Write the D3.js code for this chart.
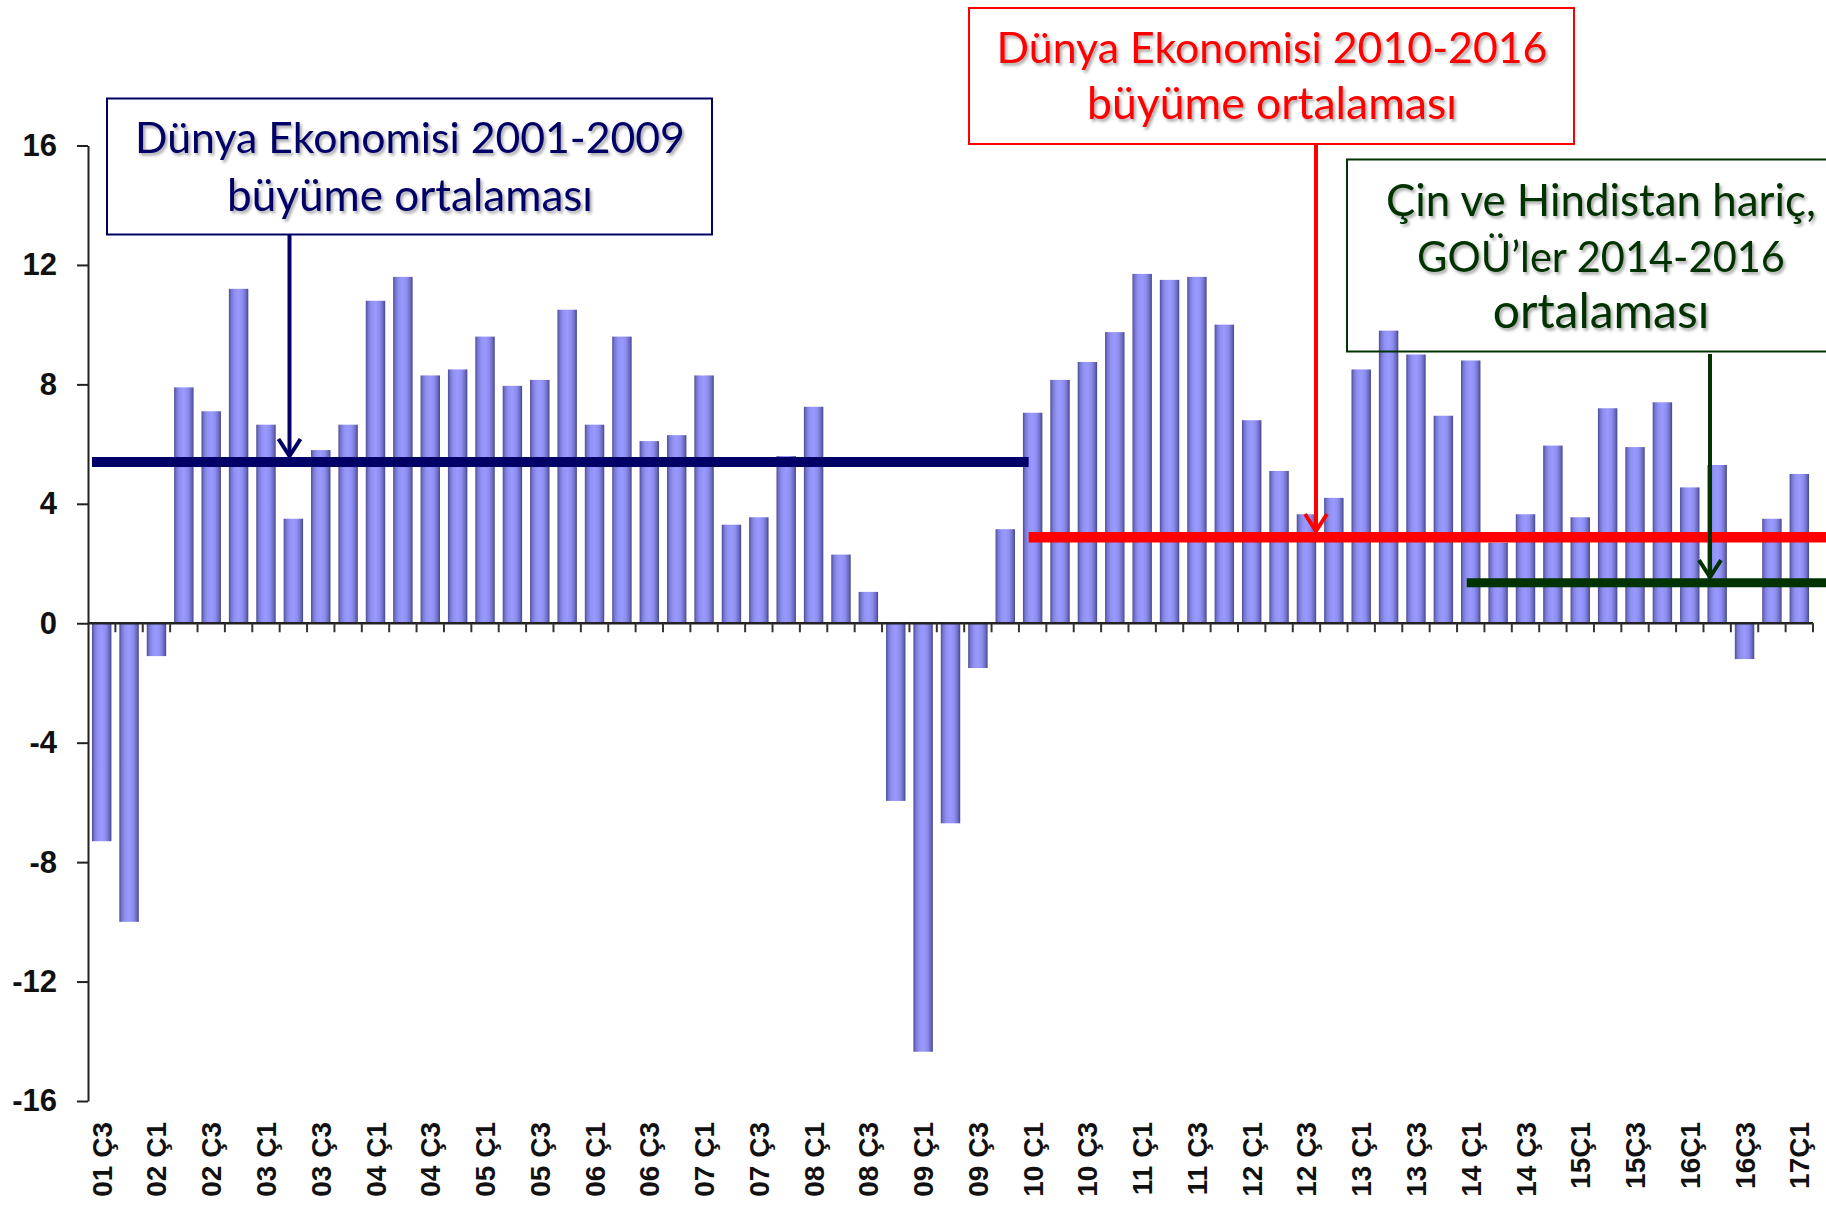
<!DOCTYPE html>
<html><head><meta charset="utf-8">
<script src="https://cdn.jsdelivr.net/npm/d3@7"></script>
<style>body{margin:0;background:#fff;} svg{display:block}</style>
</head><body>
<script>
// ---------- DATA ----------
const categories = [
  "01Ç3","01Ç4",
  "02Ç1","02Ç2","02Ç3","02Ç4",
  "03Ç1","03Ç2","03Ç3","03Ç4",
  "04Ç1","04Ç2","04Ç3","04Ç4",
  "05Ç1","05Ç2","05Ç3","05Ç4",
  "06Ç1","06Ç2","06Ç3","06Ç4",
  "07Ç1","07Ç2","07Ç3","07Ç4",
  "08Ç1","08Ç2","08Ç3","08Ç4",
  "09Ç1","09Ç2","09Ç3","09Ç4",
  "10Ç1","10Ç2","10Ç3","10Ç4",
  "11Ç1","11Ç2","11Ç3","11Ç4",
  "12Ç1","12Ç2","12Ç3","12Ç4",
  "13Ç1","13Ç2","13Ç3","13Ç4",
  "14Ç1","14Ç2","14Ç3","14Ç4",
  "15Ç1","15Ç2","15Ç3","15Ç4",
  "16Ç1","16Ç2","16Ç3","16Ç4",
  "17Ç1"
];
const growth = [
  -7.3, -10.0,
  -1.1, 7.9, 7.1, 11.2,
  6.65, 3.5, 5.8, 6.65,
  10.8, 11.6, 8.3, 8.5,
  9.6, 7.95, 8.15, 10.5,
  6.65, 9.6, 6.1, 6.3,
  8.3, 3.3, 3.55, 5.6,
  7.25, 2.3, 1.05, -5.95,
  -14.35, -6.7, -1.5, 3.15,
  7.05, 8.15, 8.75, 9.75,
  11.7, 11.5, 11.6, 10.0,
  6.8, 5.1, 3.65, 4.2,
  8.5, 9.8, 9.0, 6.95,
  8.8, 2.7, 3.65, 5.95,
  3.55, 7.2, 5.9, 7.4,
  4.55, 5.3, -1.2, 3.5,
  5.0
];
const tickCategories = ["01Ç3","02Ç1","02Ç3","03Ç1","03Ç3","04Ç1","04Ç3","05Ç1","05Ç3","06Ç1","06Ç3","07Ç1","07Ç3","08Ç1","08Ç3","09Ç1","09Ç3","10Ç1","10Ç3","11Ç1","11Ç3","12Ç1","12Ç3","13Ç1","13Ç3","14Ç1","14Ç3","15Ç1","15Ç3","16Ç1","16Ç3","17Ç1"];
const tickLabels = ["01 Ç3","02 Ç1","02 Ç3","03 Ç1","03 Ç3","04 Ç1","04 Ç3","05 Ç1","05 Ç3","06 Ç1","06 Ç3","07 Ç1","07 Ç3","08 Ç1","08 Ç3","09 Ç1","09 Ç3","10 Ç1","10 Ç3","11 Ç1","11 Ç3","12 Ç1","12 Ç3","13 Ç1","13 Ç3","14 Ç1","14 Ç3","15Ç1","15Ç3","16Ç1","16Ç3","17Ç1"];
const yTicks = [16, 12, 8, 4, 0, -4, -8, -12, -16];

// averages (annotations)
const avgNames = ["Dünya 2001-2009", "Dünya 2010-2016", "GOÜ 2014-2016"];
const avgValues = [5.4, 2.88, 1.36];
const avgStart = ["01Ç3", "10Ç1", "14Ç1"];
const avgEnd = ["10Ç1", null, null];
const avgTexts = [
  ["Dünya Ekonomisi 2001-2009", "büyüme ortalaması"],
  ["Dünya Ekonomisi 2010-2016", "büyüme ortalaması"],
  ["Çin ve Hindistan hariç,", "GOÜ’ler 2014-2016", "ortalaması"]
];

// ---------- LAYOUT / STYLE ----------
const W = 1826, H = 1211;
const colors = ["#000066", "#ff0000", "#003300"];
const lineThick = [10, 10.5, 9];
const boxes = [
  {x: 107, y: 98.5, w: 605, h: 136, sw: 2, cx: 410, base: [153, 211], widths: [550, 366]},
  {x: 969, y: 8, w: 605, h: 136, sw: 2, cx: 1272, base: [63, 119], widths: [551, 370]},
  {x: 1347, y: 159.5, w: 500, h: 192, sw: 2, cx: 1601, base: [216, 272, 328], widths: [430, 368, 234]}
];
const arrows = [
  {x: 289.5, y1: 235},
  {x: 1316, y1: 144},
  {x: 1710, y1: 354}
];

const svg = d3.select("body").append("svg").attr("width", W).attr("height", H);
const defs = svg.append("defs");
const grad = defs.append("linearGradient").attr("id", "barGrad")
  .attr("x1", 0).attr("x2", 1).attr("y1", 0).attr("y2", 0);
[[0, "#4c4c96"], [0.12, "#7676d2"], [0.3, "#9292f4"], [0.5, "#9999ff"], [0.7, "#8e8ef0"], [0.88, "#6c6cc4"], [1, "#464684"]]
  .forEach(([o, c]) => grad.append("stop").attr("offset", o).attr("stop-color", c));
const filt = defs.append("filter").attr("id", "shadow").attr("x", "-5%").attr("y", "-20%").attr("width", "110%").attr("height", "140%");
filt.append("feDropShadow").attr("dx", 2).attr("dy", 2.5).attr("stdDeviation", 1.4)
  .attr("flood-color", "#000").attr("flood-opacity", 0.35);

const x = d3.scaleBand().domain(categories).range([88, 1813]).paddingInner(0.29).paddingOuter(0.145);
const y = d3.scaleLinear().domain([-16, 16]).range([1101, 145.5]);
const bw = x.bandwidth();
const step = x.step();

// bars
svg.append("g").selectAll("rect").data(categories).join("rect")
  .attr("x", d => x(d))
  .attr("width", bw)
  .attr("y", (d, i) => y(Math.max(0, growth[i])))
  .attr("height", (d, i) => Math.abs(y(growth[i]) - y(0)))
  .attr("fill", "url(#barGrad)");

// y axis
const yAxis = d3.axisLeft(y).tickValues(yTicks).tickSize(11).tickSizeOuter(0).tickPadding(20).tickFormat(d => String(d));
const gy = svg.append("g").attr("transform", "translate(88,0)").call(yAxis);
gy.select(".domain").attr("stroke", "#222").attr("stroke-width", 2);
gy.selectAll(".tick line").attr("stroke", "#222").attr("stroke-width", 2);
gy.selectAll(".tick text").attr("font-family", "'Liberation Sans', Arial, sans-serif")
  .attr("font-weight", "bold").attr("font-size", 31).attr("fill", "#111");

// x axis (zero line) with ticks at category boundaries
const gx = svg.append("g");
const r = x.range();
gx.append("line").attr("x1", r[0]).attr("x2", r[1]).attr("y1", y(0)).attr("y2", y(0))
  .attr("stroke", "#222").attr("stroke-width", 2.5);
const bounds = categories.map(c => x(c) - step * x.paddingInner() / 2).concat([r[1]]);
gx.selectAll("line.t").data(bounds.slice(1)).join("line").attr("class", "t")
  .attr("x1", d => d).attr("x2", d => d).attr("y1", y(0)).attr("y2", y(0) + 9)
  .attr("stroke", "#333").attr("stroke-width", 2);

// x labels
svg.append("g").selectAll("text").data(tickCategories).join("text")
  .attr("transform", d => `translate(${x(d) + bw / 2 + 10},1122) rotate(-90)`)
  .attr("text-anchor", "end")
  .attr("font-family", "'Liberation Sans', Arial, sans-serif")
  .attr("font-weight", "bold").attr("font-size", 28).attr("fill", "#111")
  .text((d, i) => tickLabels[i]);

// average lines
const avgG = svg.append("g");
avgValues.forEach((v, i) => {
  const x1 = i === 0 ? x(avgStart[i]) : x(avgStart[i]) + bw / 2 - 4;
  const x2 = avgEnd[i] ? x(avgEnd[i]) + bw / 2 - 4 : W + 5;
  avgG.append("line").attr("x1", x1).attr("x2", x2).attr("y1", y(v)).attr("y2", y(v))
    .attr("stroke", colors[i]).attr("stroke-width", lineThick[i]);
});

// boxes, texts, arrows
boxes.forEach((b, i) => {
  const g = svg.append("g");
  g.append("rect").attr("x", b.x).attr("y", b.y).attr("width", b.w).attr("height", b.h)
    .attr("fill", "none").attr("stroke", colors[i]).attr("stroke-width", b.sw);
  const tg = g.append("g").attr("filter", "url(#shadow)");
  avgTexts[i].forEach((t, j) => {
    const txt = tg.append("text").attr("x", b.cx).attr("y", b.base[j]).attr("text-anchor", "middle")
      .attr("font-family", "Lato, 'Open Sans', sans-serif").attr("font-size", 46)
      .attr("fill", colors[i])
      .text(t);
    // fit the natural width to the target width by scaling font size
    const nat = txt.node().getComputedTextLength();
    const fs = Math.min(48, 46 * b.widths[j] / nat);
    txt.attr("font-size", fs.toFixed(2));
  });
  const a = arrows[i];
  const tip = y(avgValues[i]) - lineThick[i] / 2;
  g.append("line").attr("x1", a.x).attr("x2", a.x).attr("y1", a.y1).attr("y2", tip - 1)
    .attr("stroke", colors[i]).attr("stroke-width", 4);
  g.append("path").attr("d", `M${a.x - 11},${tip - 18} L${a.x},${tip - 1} L${a.x + 11},${tip - 18}`)
    .attr("fill", "none").attr("stroke", colors[i]).attr("stroke-width", 4)
    .attr("stroke-linejoin", "miter");
});
</script>
</body></html>
